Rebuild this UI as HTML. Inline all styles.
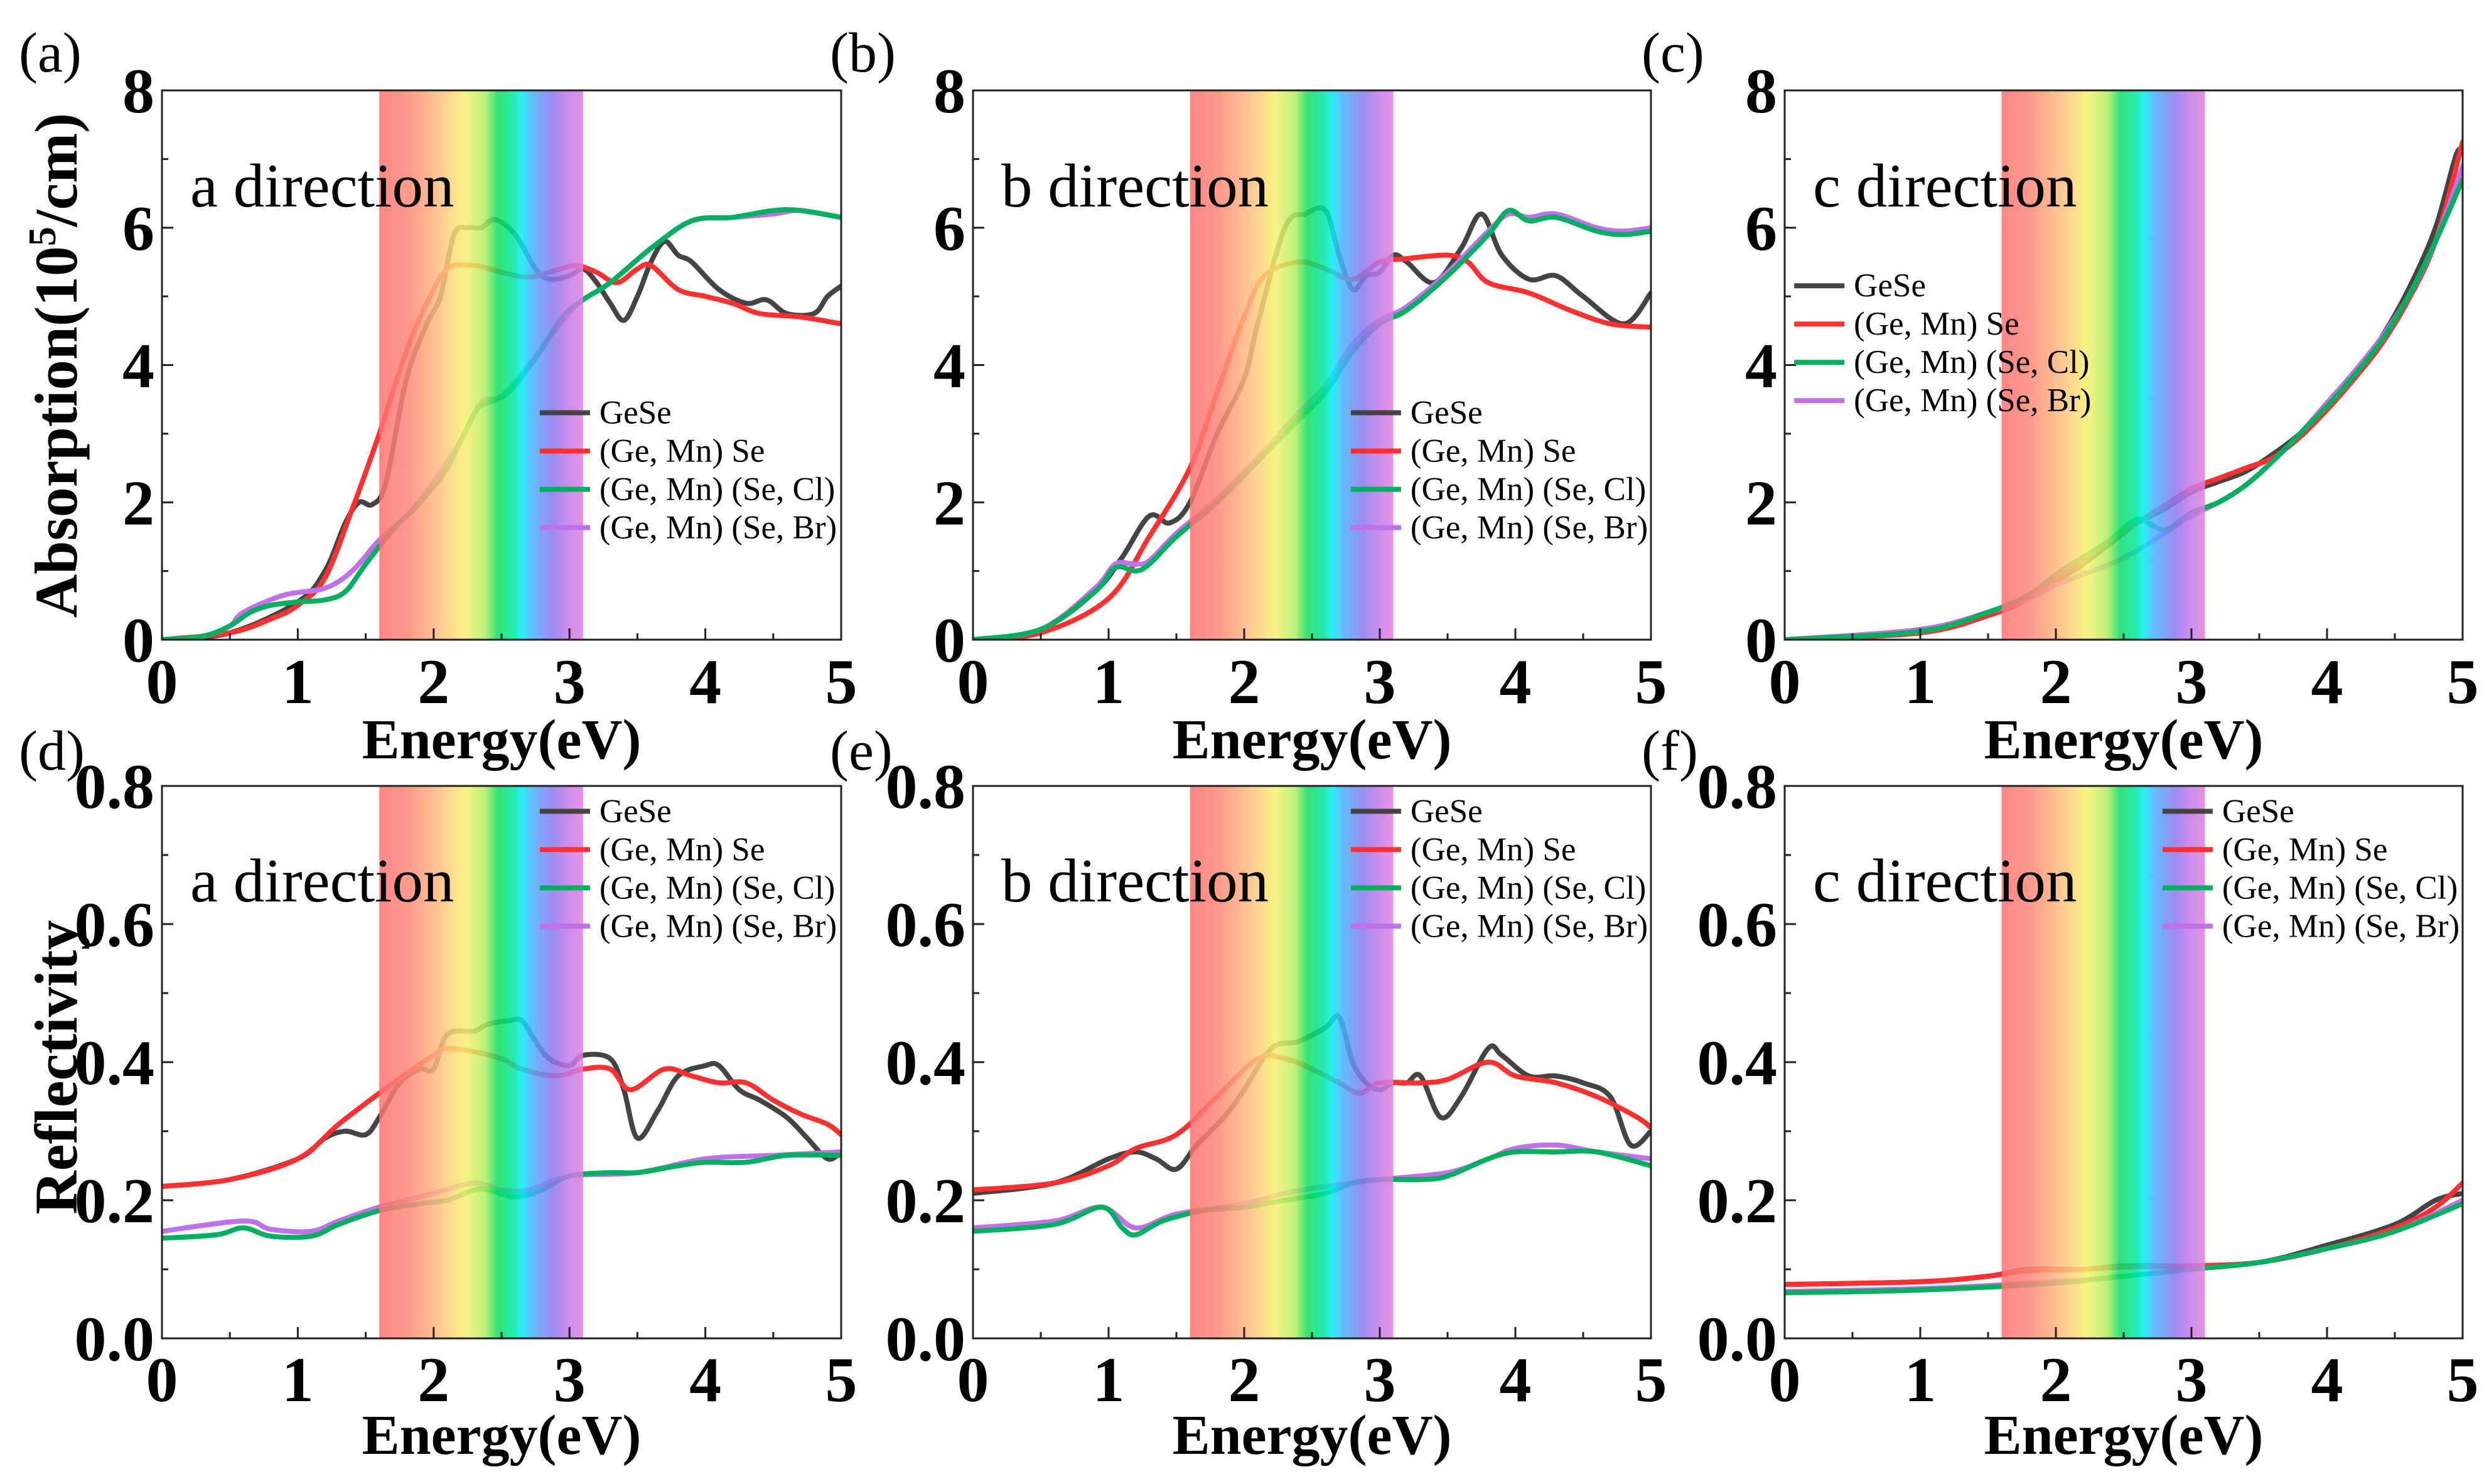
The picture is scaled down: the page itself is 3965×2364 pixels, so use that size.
<!DOCTYPE html>
<html><head><meta charset="utf-8"><style>
html,body{margin:0;padding:0;background:#fff;}
svg{display:block;}
text{font-family:"Liberation Serif",serif;}
</style></head><body>
<svg id="fig" xmlns="http://www.w3.org/2000/svg" width="3965" height="2364" viewBox="0 0 3965 2364">
<defs>
<linearGradient id="rainbow" x1="0" x2="1" y1="0" y2="0">
<stop offset="0" stop-color="#ff7070"/>
<stop offset="0.15" stop-color="#ff8a78"/>
<stop offset="0.3" stop-color="#ffc080"/>
<stop offset="0.42" stop-color="#f8f070"/>
<stop offset="0.52" stop-color="#b0ee60"/>
<stop offset="0.58" stop-color="#10dd60"/>
<stop offset="0.66" stop-color="#00e6a0"/>
<stop offset="0.7" stop-color="#00f0f0"/>
<stop offset="0.74" stop-color="#40b8ff"/>
<stop offset="0.85" stop-color="#8878f0"/>
<stop offset="0.92" stop-color="#c078e8"/>
<stop offset="1" stop-color="#e080e0"/>
</linearGradient>
</defs>
</svg>
<script>
// ---- data arrays ----
const energy_ticks = [0,1,2,3,4,5];
const abs_ticks = [0,2,4,6,8];
const refl_ticks = ["0.0","0.2","0.4","0.6","0.8"];
const series_names = ["GeSe","(Ge, Mn) Se","(Ge, Mn) (Se, Cl)","(Ge, Mn) (Se, Br)"];
const series_colors = ["#444444","#ff3030","#00b060","#c070e8"];
const band_range = [1.6, 3.1];

const absA_GeSe_x = [0,0.5,1,1.2,1.35,1.45,1.55,1.65,1.8,1.95,2.05,2.15,2.25,2.35,2.45,2.6,2.75,2.85,3.0,3.1,3.2,3.3,3.4,3.5,3.6,3.7,3.8,3.9,4.1,4.3,4.45,4.6,4.8,4.9,5];
const absA_GeSe_y = [0,0.1,0.55,1.0,1.7,2.0,1.97,2.3,3.8,4.6,5.0,5.9,6.0,6.0,6.12,5.9,5.4,5.25,5.3,5.4,5.2,4.9,4.65,5.0,5.5,5.8,5.6,5.5,5.1,4.9,4.95,4.75,4.75,5.0,5.15];
const absA_Mn_x = [0,0.5,0.8,1,1.2,1.4,1.6,1.8,1.95,2.1,2.3,2.5,2.7,2.9,3.05,3.2,3.35,3.5,3.6,3.8,4,4.2,4.4,4.7,5];
const absA_Mn_y = [0,0.1,0.3,0.5,0.9,1.9,3.0,4.2,4.9,5.4,5.45,5.35,5.28,5.38,5.45,5.35,5.2,5.4,5.45,5.1,5.0,4.9,4.75,4.7,4.6];
const absA_Cl_x = [0,0.3,0.5,0.65,0.8,1,1.2,1.35,1.5,1.7,1.9,2.1,2.3,2.4,2.55,2.75,2.95,3.1,3.3,3.6,3.9,4.2,4.5,4.7,5];
const absA_Cl_y = [0,0.05,0.2,0.4,0.5,0.55,0.58,0.7,1.1,1.6,2.0,2.5,3.3,3.45,3.6,4.1,4.7,4.95,5.2,5.7,6.1,6.15,6.25,6.25,6.15];
const absA_Br_x = [0,0.3,0.5,0.6,0.9,1.2,1.4,1.6,1.8,2.0,2.2,2.35,2.5,2.7,2.95,3.1,3.3,3.6,3.9,4.2,4.5,4.7,5];
const absA_Br_y = [0,0.05,0.2,0.4,0.65,0.75,1.0,1.45,1.8,2.3,2.9,3.45,3.55,4.0,4.65,4.95,5.2,5.7,6.1,6.15,6.2,6.25,6.15];

const absB_GeSe_x = [0,0.5,0.9,1.1,1.3,1.45,1.6,1.8,2.0,2.1,2.3,2.45,2.6,2.7,2.8,2.9,3.0,3.1,3.2,3.4,3.6,3.75,3.9,4.1,4.3,4.5,4.8,5];
const absB_GeSe_y = [0,0.15,0.7,1.2,1.8,1.7,2.0,3.0,3.8,4.6,6.0,6.2,6.25,5.6,5.1,5.3,5.35,5.6,5.5,5.2,5.7,6.2,5.6,5.25,5.3,5.0,4.6,5.05];
const absB_Mn_x = [0,0.5,1,1.3,1.6,1.8,2.0,2.15,2.4,2.6,2.8,3.0,3.2,3.5,3.65,3.8,4.1,4.4,4.7,5];
const absB_Mn_y = [0,0.1,0.6,1.5,2.5,3.6,4.7,5.3,5.5,5.4,5.25,5.5,5.55,5.6,5.5,5.2,5.05,4.8,4.6,4.55];
const absB_Cl_x = [0,0.5,0.9,1.05,1.2,1.3,1.5,1.8,2.1,2.4,2.6,2.8,3.0,3.2,3.5,3.8,3.95,4.1,4.3,4.6,4.8,5];
const absB_Cl_y = [0,0.15,0.7,1.05,1.0,1.1,1.5,2.0,2.6,3.2,3.6,4.2,4.6,4.8,5.3,5.9,6.25,6.1,6.15,5.95,5.9,5.95];
const absB_Br_x = [0,0.5,0.9,1.05,1.2,1.3,1.5,1.8,2.1,2.4,2.6,2.8,3.0,3.2,3.5,3.8,3.95,4.1,4.3,4.6,4.8,5];
const absB_Br_y = [0,0.15,0.75,1.1,1.1,1.15,1.55,2.05,2.65,3.3,3.7,4.3,4.65,4.85,5.35,5.95,6.2,6.15,6.2,6.0,5.95,6.0];

const absC_GeSe_x = [0,1,1.5,1.8,2,2.2,2.4,2.6,2.8,3,3.2,3.4,3.6,3.8,4,4.2,4.4,4.6,4.8,4.95,5];
const absC_GeSe_y = [0,0.1,0.35,0.6,0.85,1.1,1.4,1.7,1.9,2.15,2.3,2.45,2.7,3.0,3.4,3.85,4.4,5.1,6.0,7.05,7.1];
const absC_Mn_x = [0,1,1.5,1.8,2,2.2,2.4,2.6,2.8,3,3.2,3.4,3.6,3.8,4,4.2,4.4,4.6,4.8,5];
const absC_Mn_y = [0,0.1,0.35,0.6,0.9,1.15,1.45,1.7,1.95,2.2,2.35,2.5,2.65,2.95,3.35,3.8,4.3,4.95,5.8,7.25];
const absC_Cl_x = [0,1,1.5,1.8,2,2.2,2.4,2.6,2.8,3,3.2,3.4,3.6,3.8,4,4.2,4.4,4.6,4.8,5];
const absC_Cl_y = [0,0.12,0.4,0.65,0.95,1.2,1.45,1.75,1.6,1.85,2.0,2.25,2.6,3.0,3.4,3.85,4.35,5.0,5.8,6.7];
const absC_Br_x = [0,1,1.5,1.8,2,2.2,2.4,2.6,2.8,3,3.2,3.4,3.6,3.8,4,4.2,4.4,4.6,4.8,5];
const absC_Br_y = [0,0.15,0.4,0.6,0.8,0.95,1.1,1.3,1.55,1.8,2.0,2.25,2.6,3.0,3.45,3.9,4.4,5.0,5.8,6.9];

const refA_GeSe_x = [0,0.5,1,1.2,1.35,1.5,1.6,1.75,1.9,2.0,2.1,2.3,2.4,2.55,2.65,2.75,2.85,3.0,3.1,3.3,3.4,3.5,3.65,3.8,4.0,4.1,4.25,4.4,4.6,4.75,4.9,5];
const refA_GeSe_y = [0.22,0.23,0.26,0.29,0.30,0.295,0.32,0.37,0.39,0.39,0.44,0.445,0.455,0.46,0.46,0.43,0.405,0.395,0.41,0.405,0.36,0.29,0.33,0.38,0.395,0.395,0.36,0.345,0.32,0.29,0.26,0.27];
const refA_Mn_x = [0,0.5,1,1.3,1.6,1.85,2.0,2.1,2.3,2.5,2.65,2.9,3.1,3.3,3.45,3.7,3.9,4.1,4.3,4.5,4.7,4.9,5];
const refA_Mn_y = [0.22,0.23,0.26,0.31,0.355,0.39,0.41,0.42,0.415,0.405,0.39,0.38,0.39,0.39,0.36,0.39,0.38,0.37,0.37,0.345,0.325,0.31,0.295];
const refA_Cl_x = [0,0.4,0.6,0.8,1.1,1.3,1.6,1.9,2.1,2.3,2.4,2.6,2.8,3.0,3.3,3.5,3.8,4.0,4.3,4.6,5];
const refA_Cl_y = [0.145,0.15,0.16,0.148,0.148,0.165,0.185,0.195,0.2,0.215,0.215,0.205,0.215,0.235,0.24,0.24,0.25,0.255,0.255,0.265,0.265];
const refA_Br_x = [0,0.6,0.8,1.1,1.3,1.6,2.0,2.3,2.5,2.7,3.0,3.5,4.0,4.5,5];
const refA_Br_y = [0.155,0.17,0.158,0.155,0.17,0.19,0.21,0.225,0.215,0.215,0.235,0.24,0.26,0.265,0.27];

const refB_GeSe_x = [0,0.6,1,1.2,1.35,1.5,1.65,1.85,2.0,2.2,2.4,2.6,2.7,2.8,2.9,3.0,3.1,3.2,3.3,3.45,3.6,3.8,3.9,4.1,4.3,4.5,4.7,4.85,5];
const refB_GeSe_y = [0.21,0.225,0.26,0.27,0.26,0.245,0.28,0.32,0.36,0.42,0.43,0.45,0.465,0.4,0.37,0.36,0.37,0.37,0.38,0.32,0.35,0.42,0.41,0.38,0.38,0.37,0.35,0.28,0.3];
const refB_Mn_x = [0,0.6,1,1.2,1.5,1.8,2.1,2.3,2.5,2.7,2.85,3.0,3.3,3.5,3.8,4.0,4.3,4.6,4.9,5];
const refB_Mn_y = [0.215,0.225,0.25,0.275,0.295,0.35,0.405,0.405,0.39,0.37,0.355,0.37,0.37,0.375,0.4,0.38,0.37,0.35,0.32,0.305];
const refB_Cl_x = [0,0.6,0.95,1.1,1.2,1.4,1.7,2.0,2.3,2.6,2.8,3.0,3.3,3.5,3.8,4.0,4.3,4.6,5];
const refB_Cl_y = [0.155,0.165,0.19,0.16,0.15,0.17,0.185,0.19,0.2,0.21,0.225,0.23,0.23,0.235,0.26,0.27,0.27,0.27,0.25];
const refB_Br_x = [0,0.6,0.95,1.2,1.5,2.0,2.3,2.6,3.0,3.5,3.8,4.0,4.3,4.6,5];
const refB_Br_y = [0.16,0.17,0.19,0.16,0.18,0.195,0.21,0.22,0.23,0.24,0.26,0.275,0.28,0.27,0.26];

const refC_GeSe_x = [0,1,1.5,1.8,2.2,2.5,3,3.5,4,4.5,4.8,5];
const refC_GeSe_y = [0.078,0.082,0.09,0.1,0.1,0.105,0.105,0.11,0.135,0.165,0.2,0.21];
const refC_Mn_x = [0,1,1.5,1.8,2.2,2.5,3,3.5,4,4.5,4.8,5];
const refC_Mn_y = [0.078,0.082,0.09,0.098,0.1,0.103,0.105,0.11,0.13,0.16,0.19,0.225];
const refC_Cl_x = [0,1,2,2.5,3,3.5,4,4.5,5];
const refC_Cl_y = [0.066,0.07,0.08,0.09,0.1,0.11,0.13,0.155,0.195];
const refC_Br_x = [0,1,2,2.5,3,3.5,4,4.5,5];
const refC_Br_y = [0.068,0.072,0.082,0.09,0.1,0.11,0.13,0.155,0.2];

// ---- layout ----
const NS = "http://www.w3.org/2000/svg";
const svg = document.getElementById('fig');
function el(tag, attrs, parent, txt){
  const e = document.createElementNS(NS, tag);
  for (const k in attrs) e.setAttribute(k, attrs[k]);
  if (txt !== undefined) e.textContent = txt;
  (parent||svg).appendChild(e);
  return e;
}
const colsX = [[258,1340],[1550,2630],[2843,3923]];
const rowsY = [[144,1019],[1252,2132]];

function smoothPath(pts){
  let d = "M"+pts[0][0].toFixed(1)+","+pts[0][1].toFixed(1);
  for (let i=0;i<pts.length-1;i++){
    const p0=pts[Math.max(0,i-1)], p1=pts[i], p2=pts[i+1], p3=pts[Math.min(pts.length-1,i+2)];
    const c1=[p1[0]+(p2[0]-p0[0])/6, p1[1]+(p2[1]-p0[1])/6];
    const c2=[p2[0]-(p3[0]-p1[0])/6, p2[1]-(p3[1]-p1[1])/6];
    d += " C"+c1[0].toFixed(1)+","+c1[1].toFixed(1)+" "+c2[0].toFixed(1)+","+c2[1].toFixed(1)+" "+p2[0].toFixed(1)+","+p2[1].toFixed(1);
  }
  return d;
}

const panels = [
  {id:"a", r:0,c:0, ymax:8, dir:"a direction", series:[[absA_GeSe_x,absA_GeSe_y],[absA_Mn_x,absA_Mn_y],[absA_Cl_x,absA_Cl_y],[absA_Br_x,absA_Br_y]], leg:[258+(340-102)*2.529, 260*2.529]},
  {id:"b", r:0,c:1, ymax:8, dir:"b direction", series:[[absB_GeSe_x,absB_GeSe_y],[absB_Mn_x,absB_Mn_y],[absB_Cl_x,absB_Cl_y],[absB_Br_x,absB_Br_y]], leg:[1550+(340-102)*2.529, 260*2.529]},
  {id:"c", r:0,c:2, ymax:8, dir:"c direction", series:[[absC_GeSe_x,absC_GeSe_y],[absC_Mn_x,absC_Mn_y],[absC_Cl_x,absC_Cl_y],[absC_Br_x,absC_Br_y]], leg:[2843+6*2.529, 180*2.529]},
  {id:"d", r:1,c:0, ymax:0.8, dir:"a direction", series:[[refA_GeSe_x,refA_GeSe_y],[refA_Mn_x,refA_Mn_y],[refA_Cl_x,refA_Cl_y],[refA_Br_x,refA_Br_y]], leg:[258+(340-102)*2.529, 511*2.529]},
  {id:"e", r:1,c:1, ymax:0.8, dir:"b direction", series:[[refB_GeSe_x,refB_GeSe_y],[refB_Mn_x,refB_Mn_y],[refB_Cl_x,refB_Cl_y],[refB_Br_x,refB_Br_y]], leg:[1550+(340-102)*2.529, 511*2.529]},
  {id:"f", r:1,c:2, ymax:0.8, dir:"c direction", series:[[refC_GeSe_x,refC_GeSe_y],[refC_Mn_x,refC_Mn_y],[refC_Cl_x,refC_Cl_y],[refC_Br_x,refC_Br_y]], leg:[2843+(1362-1124)*2.529, 511*2.529]},
];

panels.forEach(p=>{
  const [x0,x1]=colsX[p.c], [y0,y1]=rowsY[p.r];
  const X = e => x0 + (e/5)*(x1-x0);
  const Y = v => y1 - (v/p.ymax)*(y1-y0);
  const g = el('g',{});
  
  
  const clipId='clip'+p.id;
  const cp = el('clipPath',{id:clipId},g); el('rect',{x:x0,y:y0,width:x1-x0,height:y1-y0},cp);
  const sg = el('g',{'clip-path':'url(#'+clipId+')'},g);
  [0,1,3,2].forEach(si=>{
    const [xs,ys]=p.series[si];
    const pts = xs.map((e,i)=>[X(e),Y(ys[i])]);
    const path = el('path',{d:smoothPath(pts),fill:'none',stroke:series_colors[si],'stroke-width':8,'stroke-linejoin':'round','stroke-linecap':'round'},sg);
    
    
  });
  const band = el('rect',{x:X(band_range[0]),y:y0,width:X(band_range[1])-X(band_range[0]),height:y1-y0,fill:'url(#rainbow)',opacity:0.85},g);
  
  
  const fr = el('rect',{x:x0,y:y0,width:x1-x0,height:y1-y0,fill:'none',stroke:'#222','stroke-width':3},g);
  
  
  energy_ticks.forEach(t=>{
    el('line',{x1:X(t),x2:X(t),y1:y1,y2:y1-18,stroke:'#222','stroke-width':3},g);
    if (t<5) el('line',{x1:X(t+0.5),x2:X(t+0.5),y1:y1,y2:y1-10,stroke:'#222','stroke-width':3},g);
    const tl = el('text',{x:X(t),y:(p.r===0?1120:2232),'text-anchor':'middle','font-size':102,'font-weight':'bold'},g,String(t));
    
    
  });
  const yt = p.r===0 ? abs_ticks.map(String) : refl_ticks;
  yt.forEach((lab,i)=>{
    const v = parseFloat(lab);
    el('line',{x1:x0,x2:x0+18,y1:Y(v),y2:Y(v),stroke:'#222','stroke-width':3},g);
    if (i<yt.length-1) { const mv = v + p.ymax/8; el('line',{x1:x0,x2:x0+10,y1:Y(mv),y2:Y(mv),stroke:'#222','stroke-width':3},g); }
    const tl = el('text',{x:x0-12,y:Y(v)+35,'text-anchor':'end','font-size':102,'font-weight':'bold'},g,lab);
    
    
  });
  const xt = el('text',{x:(x0+x1)/2,y:(p.r===0?1208:2316),'text-anchor':'middle','font-size':90,'font-weight':'bold'},g,'Energy(eV)');
  
  
  const pl = el('text',{x:x0-228,y:(p.r===0?114:1226),'font-size':90},g,'('+p.id+')');
  
  
  const dl = el('text',{x:x0+45,y:(p.r===0?329:1436),'font-size':99},g,p.dir);
  
  
  const [lx,ly]=p.leg;
  series_names.forEach((n,i)=>{
    const yy = ly + i*61;
    const ln = el('line',{x1:lx,x2:lx+80,y1:yy,y2:yy,stroke:series_colors[i],'stroke-width':8},g);
    
    
    const lt = el('text',{x:lx+95,y:yy+17,'font-size':53},g,n);
    
    
  });
});
const ya = el('text',{x:0,y:0,'text-anchor':'middle','font-size':96,'font-weight':'bold',transform:'translate(122,582) rotate(-90)'});


ya.innerHTML = 'Absorption(10<tspan baseline-shift="super" font-size="62">5</tspan>/cm)';
const yr = el('text',{x:0,y:0,'text-anchor':'middle','font-size':96,'font-weight':'bold',transform:'translate(122,1700) rotate(-90)'},undefined,'Reflectivity');


</script>
</body></html>
